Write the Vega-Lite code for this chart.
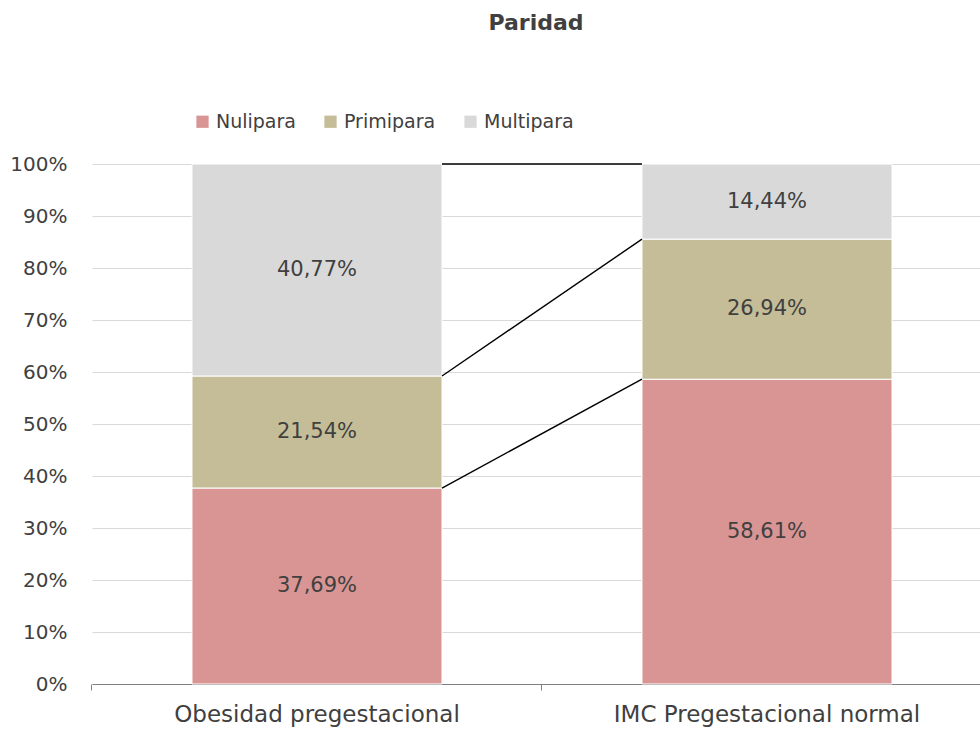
{
  "$schema": "https://vega.github.io/schema/vega-lite/v6.json",
  "width": 888,
  "height": 520,
  "autosize": "none",
  "padding": {"left": 92, "top": 164, "right": 0, "bottom": 45},
  "background": "white",
  "title": {"text": "Paridad", "fontSize": 22, "fontWeight": "bold", "font": "DejaVu Sans", "color": "#404040", "offset": 77, "anchor": "middle", "frame": "group"},
  "config": {
    "locale": {"number": {"decimal": ",", "thousands": ".", "grouping": [3], "currency": ["", " €"]}},
    "view": {"stroke": null},
    "font": "DejaVu Sans"
  },
  "data": {
    "values": [
      {"cat": "Obesidad pregestacional", "series": "Nulipara", "value": 0.3769},
      {"cat": "Obesidad pregestacional", "series": "Primipara", "value": 0.2154},
      {"cat": "Obesidad pregestacional", "series": "Multipara", "value": 0.4077},
      {"cat": "IMC Pregestacional normal", "series": "Nulipara", "value": 0.5861},
      {"cat": "IMC Pregestacional normal", "series": "Primipara", "value": 0.2694},
      {"cat": "IMC Pregestacional normal", "series": "Multipara", "value": 0.1444}
    ]
  },
  "transform": [
    {"stack": "value", "groupby": ["cat"], "as": ["v0", "v1"]},
    {"calculate": "(datum.v0 + datum.v1) / 2", "as": "vm"}
  ],
  "resolve": {"axis": {"x": "independent"}},
  "layer": [
    {
      "mark": {"type": "bar", "stroke": "white", "strokeWidth": 1},
      "encoding": {
        "x": {
          "field": "cat", "type": "nominal",
          "sort": ["Obesidad pregestacional", "IMC Pregestacional normal"],
          "scale": {"range": [0, 900], "paddingInner": 0.4444, "paddingOuter": 0.2222},
          "axis": {"title": null, "orient": "bottom", "labelAngle": 0, "labelLimit": 0, "ticks": false, "domain": false, "labelFontSize": 23, "labelColor": "#404040", "labelPadding": 19}
        },
        "y": {
          "field": "v0", "type": "quantitative",
          "scale": {"domain": [0, 1]},
          "axis": {"title": null, "format": ".0%", "values": [0, 0.1, 0.2, 0.3, 0.4, 0.5, 0.6, 0.7, 0.8, 0.9, 1], "labelOverlap": false, "ticks": false, "domain": false, "gridColor": "#D9D9D9", "gridWidth": 1, "labelFontSize": 20, "labelColor": "#404040", "labelPadding": 25}
        },
        "y2": {"field": "v1"},
        "color": {
          "field": "series", "type": "nominal",
          "scale": {"domain": ["Nulipara", "Primipara", "Multipara"], "range": ["#D99594", "#C4BD97", "#D9D9D9"]},
          "legend": {"title": null, "orient": "none", "legendX": 101, "legendY": -52, "direction": "horizontal", "symbolType": "square", "symbolSize": 150, "symbolStrokeWidth": 0, "labelFontSize": 19, "labelColor": "#404040", "labelOffset": 4, "columnPadding": 25}
        }
      }
    },
    {
      "transform": [{"pivot": "cat", "value": "v1", "groupby": ["series"]}],
      "mark": {"type": "rule", "color": "black", "strokeWidth": 1.4},
      "encoding": {
        "x": {"datum": "Obesidad pregestacional", "type": "nominal", "bandPosition": 1, "axis": null},
        "x2": {"datum": "IMC Pregestacional normal", "bandPosition": 0},
        "y": {"field": "Obesidad pregestacional", "type": "quantitative"},
        "y2": {"field": "IMC Pregestacional normal"}
      }
    },
    {
      "mark": {"type": "text", "fontSize": 21, "color": "#404040"},
      "encoding": {
        "x": {
          "field": "cat", "type": "nominal",
          "sort": ["Obesidad pregestacional", "IMC Pregestacional normal"],
          "axis": {"title": null, "orient": "bottom", "labels": false, "ticks": true, "tickSize": 6, "tickColor": "#7F7F7F", "domain": true, "domainColor": "#7F7F7F", "bandPosition": -0.4, "grid": false}
        },
        "y": {"field": "vm", "type": "quantitative"},
        "text": {"field": "value", "type": "quantitative", "format": ".2%"}
      }
    }
  ]
}
